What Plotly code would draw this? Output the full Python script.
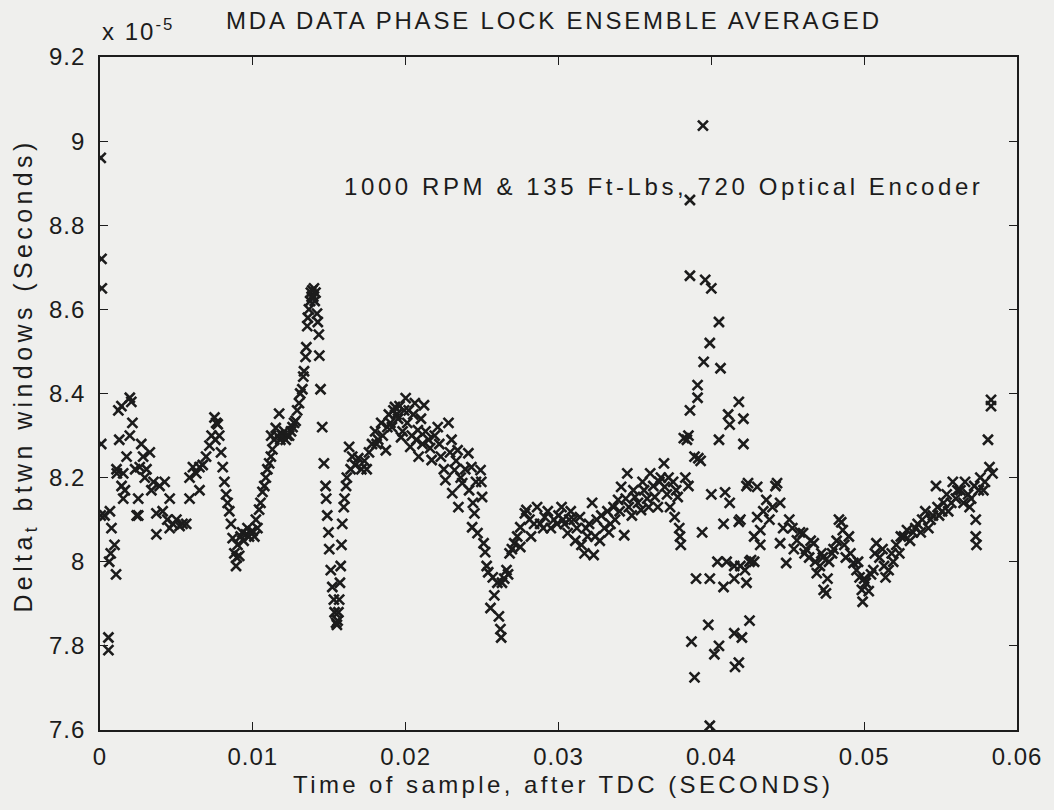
import plotly.graph_objects as go

# ---- data: (time of sample in ms, delta between windows in units of 1e-5 s) ----
seg_start = [
    (0.05, 8.96), (0.10, 8.72), (0.12, 8.65), (0.08, 8.28), (0.05, 8.11), (0.30, 8.11),
    (0.55, 7.82), (0.65, 8.12), (0.75, 8.08), (0.70, 8.02), (0.55, 7.79), (0.60, 8.00),
    (0.95, 8.04), (1.05, 7.97), (1.10, 8.21), (1.20, 8.36), (1.40, 8.37), (1.26, 8.29),
    (1.08, 8.22), (1.52, 8.21), (1.41, 8.18), (1.63, 8.17), (1.52, 8.15), (1.74, 8.25),
    (1.95, 8.39), (2.05, 8.38), (2.12, 8.33), (1.95, 8.30), (2.30, 8.22), (2.40, 8.11),
    (2.50, 8.15), (2.50, 8.11), (2.70, 8.28), (2.82, 8.25), (3.04, 8.22), (2.60, 8.225),
    (2.93, 8.20), (3.26, 8.26), (3.36, 8.17), (3.50, 8.19), (3.69, 8.115), (3.69, 8.065),
    (3.90, 8.18), (4.10, 8.12), (4.23, 8.19), (4.40, 8.10), (4.56, 8.15), (4.56, 8.08),
    (4.77, 8.09), (5.00, 8.10), (5.21, 8.085), (5.40, 8.09), (5.64, 8.09), (5.86, 8.15),
    (5.86, 8.20), (6.08, 8.225), (6.30, 8.21), (6.51, 8.225), (6.51, 8.17), (6.72, 8.23),
    (6.94, 8.25), (7.16, 8.276), (7.30, 8.30),
]

seg_first_peak = [
    (7.49, 8.343), (7.60, 8.33), (7.70, 8.327), (7.55, 8.29), (7.80, 8.30), (7.92, 8.26),
    (8.03, 8.225), (8.14, 8.19), (8.25, 8.16), (8.35, 8.14), (8.46, 8.12), (8.57, 8.09),
    (8.68, 8.056), (8.79, 8.02), (8.90, 7.99), (8.95, 8.01), (9.00, 8.04), (9.11, 8.014),
    (9.20, 8.06), (9.30, 8.07), (9.40, 8.05), (9.55, 8.065), (9.65, 8.08), (9.75, 8.06),
    (9.85, 8.07), (9.98, 8.073), (10.10, 8.06), (10.20, 8.10), (10.30, 8.08), (10.41, 8.124),
    (10.50, 8.14), (10.63, 8.166), (10.75, 8.18), (10.85, 8.20), (10.95, 8.22), (11.07, 8.234),
    (11.18, 8.25), (11.28, 8.267), (11.20, 8.30), (11.40, 8.29), (11.50, 8.318), (11.60, 8.30),
    (11.72, 8.352), (11.80, 8.29), (11.93, 8.30), (12.05, 8.31), (12.15, 8.29), (12.25, 8.30),
    (12.37, 8.30), (12.50, 8.31), (12.60, 8.32), (12.70, 8.33), (12.80, 8.335), (12.90, 8.36),
    (13.02, 8.377), (13.10, 8.40), (13.24, 8.41), (13.30, 8.44), (13.35, 8.453), (13.45, 8.487),
    (13.50, 8.51), (13.56, 8.56), (13.60, 8.58), (13.67, 8.60), (13.75, 8.62), (13.80, 8.64),
    (13.85, 8.63), (13.89, 8.645), (13.95, 8.63), (14.00, 8.65), (14.05, 8.62), (14.10, 8.64),
    (14.20, 8.59), (14.25, 8.57), (14.32, 8.54), (14.35, 8.49), (14.43, 8.41), (14.54, 8.32),
    (14.65, 8.234), (14.76, 8.18), (14.80, 8.15), (14.87, 8.11), (14.95, 8.07), (15.00, 8.03),
    (15.10, 7.98), (15.20, 7.94), (15.30, 7.91), (15.35, 7.88), (15.45, 7.855), (15.50, 7.85),
]

seg_hump = [
    (15.55, 7.86), (15.60, 7.88), (15.65, 7.91), (15.70, 7.95), (15.75, 7.99), (15.80, 8.04),
    (15.85, 8.09), (15.95, 8.13), (16.00, 8.15), (16.10, 8.18), (16.15, 8.20), (16.30, 8.273),
    (16.40, 8.22), (16.50, 8.25), (16.70, 8.23), (16.90, 8.246), (17.10, 8.22), (17.30, 8.24),
    (17.45, 8.22), (17.60, 8.26), (17.80, 8.28), (18.00, 8.31), (18.10, 8.28), (18.20, 8.29),
    (18.40, 8.33), (18.50, 8.30), (18.70, 8.265), (18.80, 8.32), (18.90, 8.35), (19.00, 8.33),
    (19.10, 8.32), (19.20, 8.36), (19.30, 8.368), (19.40, 8.35), (19.50, 8.34), (19.60, 8.37),
    (19.70, 8.296), (19.80, 8.31), (19.90, 8.36), (20.00, 8.389), (20.10, 8.33), (20.20, 8.36),
    (20.30, 8.273), (20.40, 8.30), (20.50, 8.35), (20.60, 8.377), (20.70, 8.29), (20.80, 8.313),
    (20.85, 8.25), (21.00, 8.34), (21.10, 8.28), (21.20, 8.372), (21.30, 8.31), (21.50, 8.29),
    (21.60, 8.27), (21.70, 8.242), (21.90, 8.30), (22.10, 8.32), (22.20, 8.28), (22.30, 8.25),
    (22.50, 8.22), (22.60, 8.194), (22.80, 8.33), (22.90, 8.26), (23.00, 8.29), (23.05, 8.163),
    (23.20, 8.218), (23.30, 8.24), (23.40, 8.265), (23.45, 8.13), (23.60, 8.20), (23.70, 8.187),
    (23.90, 8.22), (24.10, 8.258), (24.15, 8.17), (24.30, 8.225), (24.35, 8.082), (24.40, 8.14),
    (24.50, 8.115), (24.60, 8.19), (24.70, 8.068), (24.90, 8.218), (24.95, 8.19), (25.00, 8.154),
    (25.10, 8.044), (25.20, 8.023), (25.30, 7.99), (25.40, 7.975), (25.55, 7.89), (25.70, 7.963),
    (25.80, 7.92), (26.00, 7.95), (26.10, 7.87), (26.20, 7.84), (26.25, 7.82), (26.30, 7.95),
    (26.45, 7.96), (26.60, 7.98), (26.70, 7.97), (26.80, 8.02), (26.95, 8.03), (27.10, 8.044),
    (27.30, 8.06), (27.50, 8.082), (27.80, 8.115),
]

seg_plateau = [
    (27.50, 8.035), (27.90, 8.123), (28.10, 8.10), (28.20, 8.06), (28.40, 8.09), (28.60, 8.13),
    (28.80, 8.09), (29.00, 8.08), (29.10, 8.106), (29.30, 8.12), (29.50, 8.08), (29.70, 8.10),
    (29.90, 8.09), (30.00, 8.11), (30.20, 8.13), (30.30, 8.10), (30.40, 8.09), (30.60, 8.068),
    (30.70, 8.10), (30.80, 8.12), (31.00, 8.10), (31.10, 8.05), (31.20, 8.08), (31.40, 8.106),
    (31.50, 8.04), (31.70, 8.02), (31.80, 8.08), (31.90, 8.06), (32.00, 8.09), (32.20, 8.14),
    (32.30, 8.016), (32.40, 8.06), (32.50, 8.10), (32.70, 8.05), (32.80, 8.11), (33.00, 8.08),
    (33.20, 8.12), (33.30, 8.07), (33.40, 8.09), (33.60, 8.13), (33.70, 8.10), (33.90, 8.147),
    (34.00, 8.12), (34.10, 8.178), (34.30, 8.063), (34.40, 8.15), (34.50, 8.21), (34.60, 8.13),
    (34.80, 8.11), (34.90, 8.17), (35.00, 8.154), (35.20, 8.14), (35.40, 8.123), (35.50, 8.19),
    (35.60, 8.17), (35.80, 8.15), (35.90, 8.13), (36.00, 8.21), (36.20, 8.18), (36.30, 8.154),
    (36.50, 8.13), (36.60, 8.19), (36.70, 8.20), (36.90, 8.234), (36.95, 8.178), (37.10, 8.16),
    (37.20, 8.20), (37.30, 8.13), (37.50, 8.19), (37.60, 8.106), (37.70, 8.17), (37.80, 8.154),
    (37.90, 8.08), (37.95, 8.06), (38.00, 8.04),
]

seg_scatter = [
    (38.20, 8.294), (38.30, 8.20), (38.40, 8.29), (38.50, 8.30), (38.50, 8.18), (38.60, 8.86),
    (38.60, 8.68), (38.60, 8.36), (38.70, 7.81), (38.90, 7.725), (38.90, 8.25), (39.00, 7.96),
    (39.10, 8.42), (39.10, 8.39), (39.15, 8.246), (39.30, 8.24), (39.40, 8.07), (39.45, 9.037),
    (39.50, 8.475), (39.60, 8.67), (39.80, 7.85), (39.90, 7.61), (39.90, 7.96), (39.90, 8.52),
    (40.00, 8.65), (40.00, 8.16), (40.20, 7.78), (40.40, 8.00), (40.50, 8.57), (40.50, 8.29),
    (40.50, 7.80), (40.60, 8.46), (40.80, 8.09), (40.80, 7.94), (40.90, 8.165), (41.00, 8.00),
    (41.10, 8.35), (41.20, 8.326), (41.20, 8.14), (41.50, 7.99), (41.50, 7.96), (41.50, 7.83),
    (41.55, 7.75), (41.80, 8.38), (41.80, 8.095), (41.80, 7.76), (41.90, 8.10), (41.90, 7.99),
    (42.00, 7.82), (42.10, 8.34), (42.10, 8.28), (42.20, 7.98), (42.30, 8.18), (42.30, 7.95),
    (42.40, 8.187), (42.50, 7.86), (42.50, 8.00), (42.60, 8.004), (42.80, 8.00), (42.80, 8.06),
]

seg_end = [
    (43.00, 8.178), (43.00, 8.106), (43.20, 8.075), (43.20, 8.04), (43.40, 8.12), (43.60, 8.147),
    (43.80, 8.10), (44.00, 8.13), (44.20, 8.18), (44.30, 8.187), (44.50, 8.14), (44.50, 8.044),
    (44.70, 8.08), (44.90, 7.997), (45.10, 8.10), (45.30, 8.08), (45.40, 8.03), (45.60, 8.051),
    (45.80, 8.07), (46.00, 8.068), (46.10, 8.02), (46.20, 8.03), (46.40, 8.01), (46.50, 8.05),
    (46.70, 8.044), (46.80, 8.00), (46.90, 7.973), (47.10, 7.99), (47.20, 8.02), (47.30, 8.01),
    (47.35, 7.933), (47.50, 7.925), (47.60, 7.96), (47.70, 8.00), (47.90, 8.02), (48.00, 8.03),
    (48.20, 8.05), (48.35, 8.10), (48.50, 8.094), (48.60, 8.075), (48.70, 8.04), (48.80, 8.01),
    (49.00, 8.06), (49.10, 8.02), (49.30, 7.997), (49.50, 7.98), (49.60, 8.00), (49.70, 7.963),
    (49.85, 7.933), (49.90, 7.905), (50.00, 7.96), (50.10, 7.95), (50.30, 7.93), (50.45, 7.97),
    (50.60, 7.98), (50.70, 8.02), (50.80, 8.044), (51.00, 8.01), (51.20, 8.03), (51.30, 7.99),
    (51.40, 7.963), (51.60, 7.98), (51.80, 8.02), (51.90, 8.00), (52.10, 8.04), (52.30, 8.02),
    (52.40, 8.06), (52.60, 8.06), (52.80, 8.075), (53.00, 8.05), (53.20, 8.07), (53.35, 8.08),
    (53.50, 8.09), (53.70, 8.07), (53.80, 8.10), (54.00, 8.12), (54.20, 8.08), (54.35, 8.10),
    (54.50, 8.11), (54.70, 8.18), (54.80, 8.13), (54.90, 8.11), (55.10, 8.12), (55.20, 8.14),
    (55.40, 8.16), (55.50, 8.12), (55.70, 8.14), (55.80, 8.19), (56.00, 8.15), (56.10, 8.17),
    (56.30, 8.17), (56.50, 8.14), (56.60, 8.19), (56.80, 8.16), (56.90, 8.13), (57.00, 8.15),
    (57.20, 8.18), (57.30, 8.10), (57.30, 8.06), (57.35, 8.04), (57.50, 8.17), (57.60, 8.20),
    (57.80, 8.17), (57.90, 8.19), (58.10, 8.29), (58.20, 8.225), (58.30, 8.37), (58.30, 8.385),
    (58.40, 8.21),
]

segments = [seg_start, seg_first_peak, seg_hump, seg_plateau, seg_scatter, seg_end]

x_ticks = [0, 0.01, 0.02, 0.03, 0.04, 0.05, 0.06]
x_tick_labels = ["0", "0.01", "0.02", "0.03", "0.04", "0.05", "0.06"]
y_ticks = [7.6, 7.8, 8.0, 8.2, 8.4, 8.6, 8.8, 9.0, 9.2]
y_tick_labels = ["7.6", "7.8", "8", "8.2", "8.4", "8.6", "8.8", "9", "9.2"]

title_text = "MDA DATA PHASE LOCK ENSEMBLE AVERAGED"
note_text = "1000 RPM &amp; 135 Ft-Lbs, 720 Optical Encoder"
x_label = "Time of sample, after TDC (SECONDS)"
y_label = "Delta<sub>t</sub> btwn windows (Seconds)"
exp_label = "x 10<sup>-5</sup>"

# ---- build ----
t_sec = [p[0] / 1000.0 for seg in segments for p in seg]
delta = [p[1] for seg in segments for p in seg]

INK = "#1c1c1c"
BG = "#efefed"
FONT = "Liberation Sans, Arial, Helvetica, sans-serif"


def spaced(txt, spacing, size):
    return '<span style="letter-spacing:%spx;font-size:%spx">%s</span>' % (spacing, size, txt)


fig = go.Figure()
fig.add_trace(go.Scatter(
    x=t_sec, y=delta, mode="markers",
    marker=dict(symbol="x-thin", size=10, color=INK,
                line=dict(color=INK, width=2.6)),
    hoverinfo="skip", showlegend=False,
))

axis_common = dict(
    showline=True, linecolor=INK, linewidth=1.6, mirror="ticks",
    ticks="inside", ticklen=8, tickwidth=1.4, tickcolor=INK,
    showgrid=False, zeroline=False,
    tickfont=dict(family=FONT, size=24, color=INK),
)

fig.update_xaxes(range=[0, 0.06], tickvals=x_ticks,
                 ticktext=[spaced(s, 1, 24) for s in x_tick_labels],
                 ticklabelstandoff=4, **axis_common)
fig.update_yaxes(range=[7.6, 9.2], tickvals=y_ticks,
                 ticktext=[spaced(s, 1, 24) for s in y_tick_labels],
                 ticklabelstandoff=8, **axis_common)

annotations = [
    dict(text=spaced(title_text, 2.8, 24), x=0.4946, y=1.0535, xref="paper", yref="paper",
         xanchor="center", yanchor="middle", showarrow=False,
         font=dict(family=FONT, size=24, color=INK)),
    dict(text=spaced(note_text, 3.6, 24), x=0.6141, y=0.8083, xref="paper", yref="paper",
         xanchor="center", yanchor="middle", showarrow=False,
         font=dict(family=FONT, size=24, color=INK)),
    dict(text=spaced(x_label, 3.4, 24), x=0.5054, y=-0.0817, xref="paper", yref="paper",
         xanchor="center", yanchor="middle", showarrow=False,
         font=dict(family=FONT, size=24, color=INK)),
    dict(text=spaced(y_label, 4.4, 25), x=-0.0815, y=0.527, xref="paper", yref="paper",
         xanchor="center", yanchor="middle", showarrow=False, textangle=-90,
         font=dict(family=FONT, size=25, color=INK)),
    dict(text=spaced(exp_label, 2, 24), x=0.0, y=1.04, xref="paper", yref="paper",
         xanchor="left", yanchor="middle", showarrow=False,
         font=dict(family=FONT, size=24, color=INK)),
]

fig.update_layout(
    width=1054, height=810,
    margin=dict(l=100, r=34, t=57, b=80),
    paper_bgcolor=BG, plot_bgcolor=BG,
    annotations=annotations,
    showlegend=False,
)

fig.write_html("out.html", config={"displayModeBar": False},
               post_script="document.body.style.margin='0';document.body.style.overflow='hidden';")
